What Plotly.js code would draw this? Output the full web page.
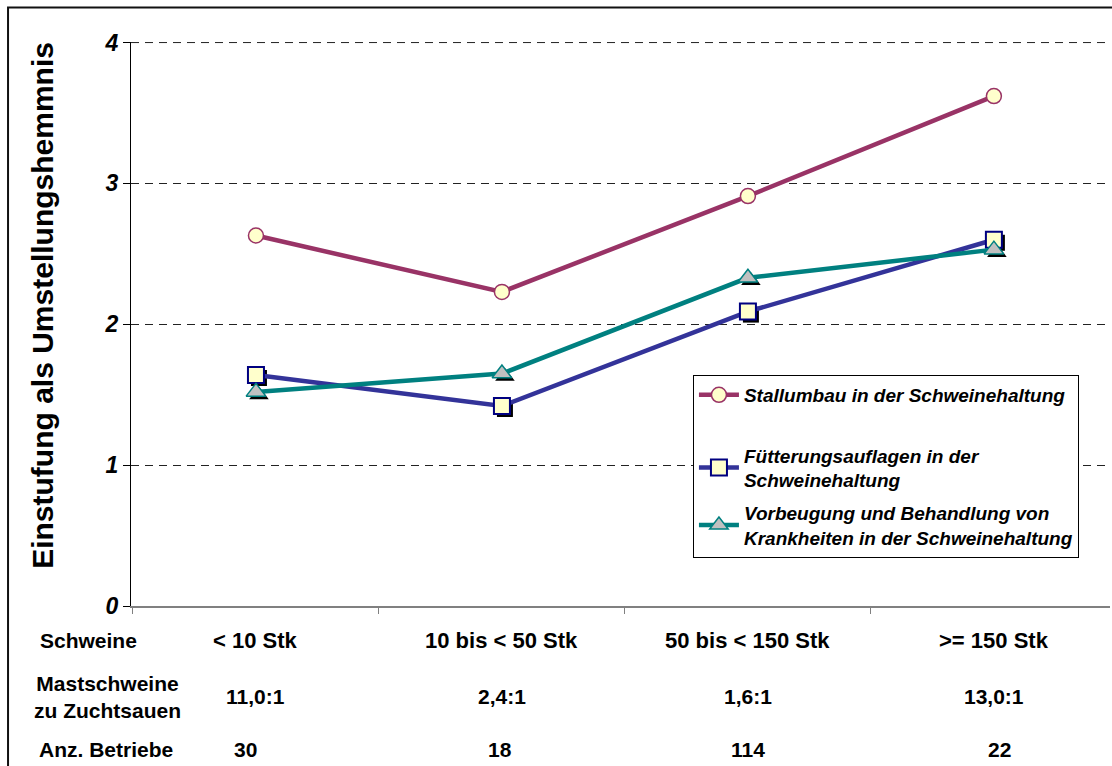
<!DOCTYPE html>
<html>
<head>
<meta charset="utf-8">
<script src="https://cdn.plot.ly/plotly-3.0.1.min.js"></script>
<style>html,body{margin:0;padding:0;background:#fff;}#chart{width:1112px;height:766px;}</style>
</head>
<body>
<div id="chart"></div>
<script>
const categories = ["< 10 Stk", "10 bis < 50 Stk", "50 bis < 150 Stk", ">= 150 Stk"];
const stallumbau = [2.63, 2.23, 2.91, 3.62];
const fuetterung = [1.64, 1.42, 2.09, 2.60];
const vorbeugung = [1.52, 1.65, 2.33, 2.53];
const seriesNames = [
  "Stallumbau in der Schweinehaltung",
  "Fütterungsauflagen in der<br>Schweinehaltung",
  "Vorbeugung und Behandlung von<br>Krankheiten in der Schweinehaltung"
];
const rowLabels = ["Schweine", "Mastschweine<br>zu Zuchtsauen", "Anz. Betriebe"];
const ratioRow = ["11,0:1", "2,4:1", "1,6:1", "13,0:1"];
const betriebeRow = ["30", "18", "114", "22"];
const yTicks = [0, 1, 2, 3, 4];

const FONT = "Arial, 'Liberation Sans', sans-serif";
const xRange = [-0.508, 3.472];
const yRange = [0, 4.004];
// shadow scale: shifted by ~3px right / down
const xRangeSh = [xRange[0] - 0.0122, xRange[1] - 0.0122];
const yRangeSh = [yRange[0] + 0.0213, yRange[1] + 0.0213];

const traces = [
  // shadows on base (hidden) axes
  {x: categories, y: fuetterung, xaxis: 'x', yaxis: 'y', type: 'scatter', mode: 'markers', showlegend: false, hoverinfo: 'skip',
   marker: {symbol: 'square', size: 16, color: '#000', line: {width: 0}}},
  {x: categories, y: vorbeugung, xaxis: 'x', yaxis: 'y', type: 'scatter', mode: 'markers', showlegend: false, hoverinfo: 'skip',
   marker: {symbol: 'triangle-up', size: 17, color: '#000', line: {width: 0}}},
  // real series on visible overlay axes
  {x: categories, y: stallumbau, xaxis: 'x2', yaxis: 'y2', type: 'scatter', mode: 'lines+markers', name: seriesNames[0],
   legendgroup: 'g1', line: {color: '#993366', width: 4.5},
   marker: {symbol: 'circle', size: 15, color: '#FFFFCC', line: {color: '#993366', width: 1.5}}},
  // legend spacer (draws nothing)
  {x: [null], y: [null], xaxis: 'x2', yaxis: 'y2', type: 'scatter', mode: 'lines', name: ' ', legendgroup: 'g1',
   showlegend: true, line: {color: 'rgba(0,0,0,0)', width: 0}, hoverinfo: 'skip'},
  {x: categories, y: fuetterung, xaxis: 'x2', yaxis: 'y2', type: 'scatter', mode: 'lines+markers', name: seriesNames[1],
   legendgroup: 'g2', line: {color: '#333399', width: 4.5},
   marker: {symbol: 'square', size: 16, color: '#FFFFCC', line: {color: '#000080', width: 2}}},
  {x: categories, y: vorbeugung, xaxis: 'x2', yaxis: 'y2', type: 'scatter', mode: 'lines+markers', name: seriesNames[2],
   legendgroup: 'g3', line: {color: '#008080', width: 4.5},
   marker: {symbol: 'triangle-up', size: 17, color: '#C0C0C0', line: {color: '#008080', width: 1.5}}}
];

const annotations = [];
// table row labels
const rowY = [-0.062, -0.161, -0.255];
const rowX = [-0.095, -0.0235, -0.096];
const rowAnchor = ['left', 'center', 'left'];
const rowSizes = [21, 21, 21];
rowLabels.forEach((t, i) => annotations.push({
  text: t, xref: 'paper', yref: 'paper', x: rowX[i], y: rowY[i], xanchor: rowAnchor[i], yanchor: 'middle', align: 'center',
  showarrow: false, font: {family: FONT, size: rowSizes[i], color: '#000', weight: 'bold'}
}));
// categories row
categories.forEach((c, i) => annotations.push({
  text: c.replace('<', '&lt;'), xref: 'x2', yref: 'paper', x: c, y: rowY[0], xanchor: 'center', yanchor: 'middle',
  showarrow: false, font: {family: FONT, size: 22, color: '#000', weight: 'bold'}
}));
ratioRow.forEach((t, i) => annotations.push({
  text: t, xref: 'x2', yref: 'paper', x: categories[i], y: rowY[1], xanchor: 'center', yanchor: 'middle',
  showarrow: false, font: {family: FONT, size: 21, color: '#000', weight: 'bold'}
}));
const betriebeShift = [-10, -2, 0, 6];
betriebeRow.forEach((t, i) => annotations.push({
  text: t, xref: 'x2', yref: 'paper', x: categories[i], y: rowY[2], xanchor: 'center', yanchor: 'middle', xshift: betriebeShift[i],
  showarrow: false, font: {family: FONT, size: 21, color: '#000', weight: 'bold'}
}));
// y title
annotations.push({
  text: 'Einstufung als Umstellungshemmnis', textangle: -90, xref: 'paper', yref: 'paper',
  x: -0.0899, y: 0.534, xanchor: 'center', yanchor: 'middle', showarrow: false,
  font: {family: FONT, size: 30, color: '#000', weight: 'bold'}
});

const topTick = yTicks[yTicks.length - 1];

const layout = {
  width: 1112, height: 766,
  margin: {l: 131, r: 2, t: 42, b: 160, pad: 0},
  paper_bgcolor: '#fff', plot_bgcolor: '#fff',
  font: {family: FONT, color: '#000'},
  showlegend: true,
  xaxis: {type: 'category', range: xRangeSh, visible: false, fixedrange: true},
  yaxis: {range: yRangeSh, visible: false, fixedrange: true},
  xaxis2: {type: 'category', overlaying: 'x', range: xRange, showgrid: false, zeroline: false,
    showline: true, linecolor: '#808080', linewidth: 2, ticks: 'outside', tickson: 'boundaries',
    ticklen: 6, tickcolor: '#808080', tickwidth: 1, showticklabels: false, fixedrange: true},
  yaxis2: {overlaying: 'y', range: yRange, tickvals: yTicks, ticktext: yTicks.map(String),
    showgrid: true, gridcolor: '#222', griddash: '8px,6px', gridwidth: 1, zeroline: false,
    showline: true, linecolor: '#000', linewidth: 1, ticks: 'outside', ticklen: 7, tickcolor: '#000',
    tickfont: {family: FONT, size: 23, color: '#000', weight: 'bold', style: 'italic'}, ticklabelstandoff: 0,
    fixedrange: true},
  legend: {
    x: 0.574, y: 0.4096, xanchor: 'left', yanchor: 'top',
    bgcolor: '#fff', bordercolor: '#000', borderwidth: 1,
    traceorder: 'grouped', tracegroupgap: 5,
    font: {family: FONT, size: 19, color: '#000', weight: 'bold', style: 'italic'},
    itemwidth: 40
  },
  annotations: annotations,
  shapes: [
    {type: 'rect', xref: 'paper', yref: 'paper', x0: -0.1256, x1: 1.05, y0: -0.5, y1: 1.0612,
     line: {color: '#111', width: 2}, fillcolor: 'rgba(0,0,0,0)', layer: 'below'},
    {type: 'line', xref: 'paper', yref: 'y2', x0: 0, x1: 1, y0: topTick, y1: topTick,
     line: {color: '#222', width: 1, dash: '8px,6px'}, layer: 'below'}
  ]
};

Plotly.newPlot('chart', traces, layout, {displayModeBar: false, staticPlot: true});
</script>
</body>
</html>
